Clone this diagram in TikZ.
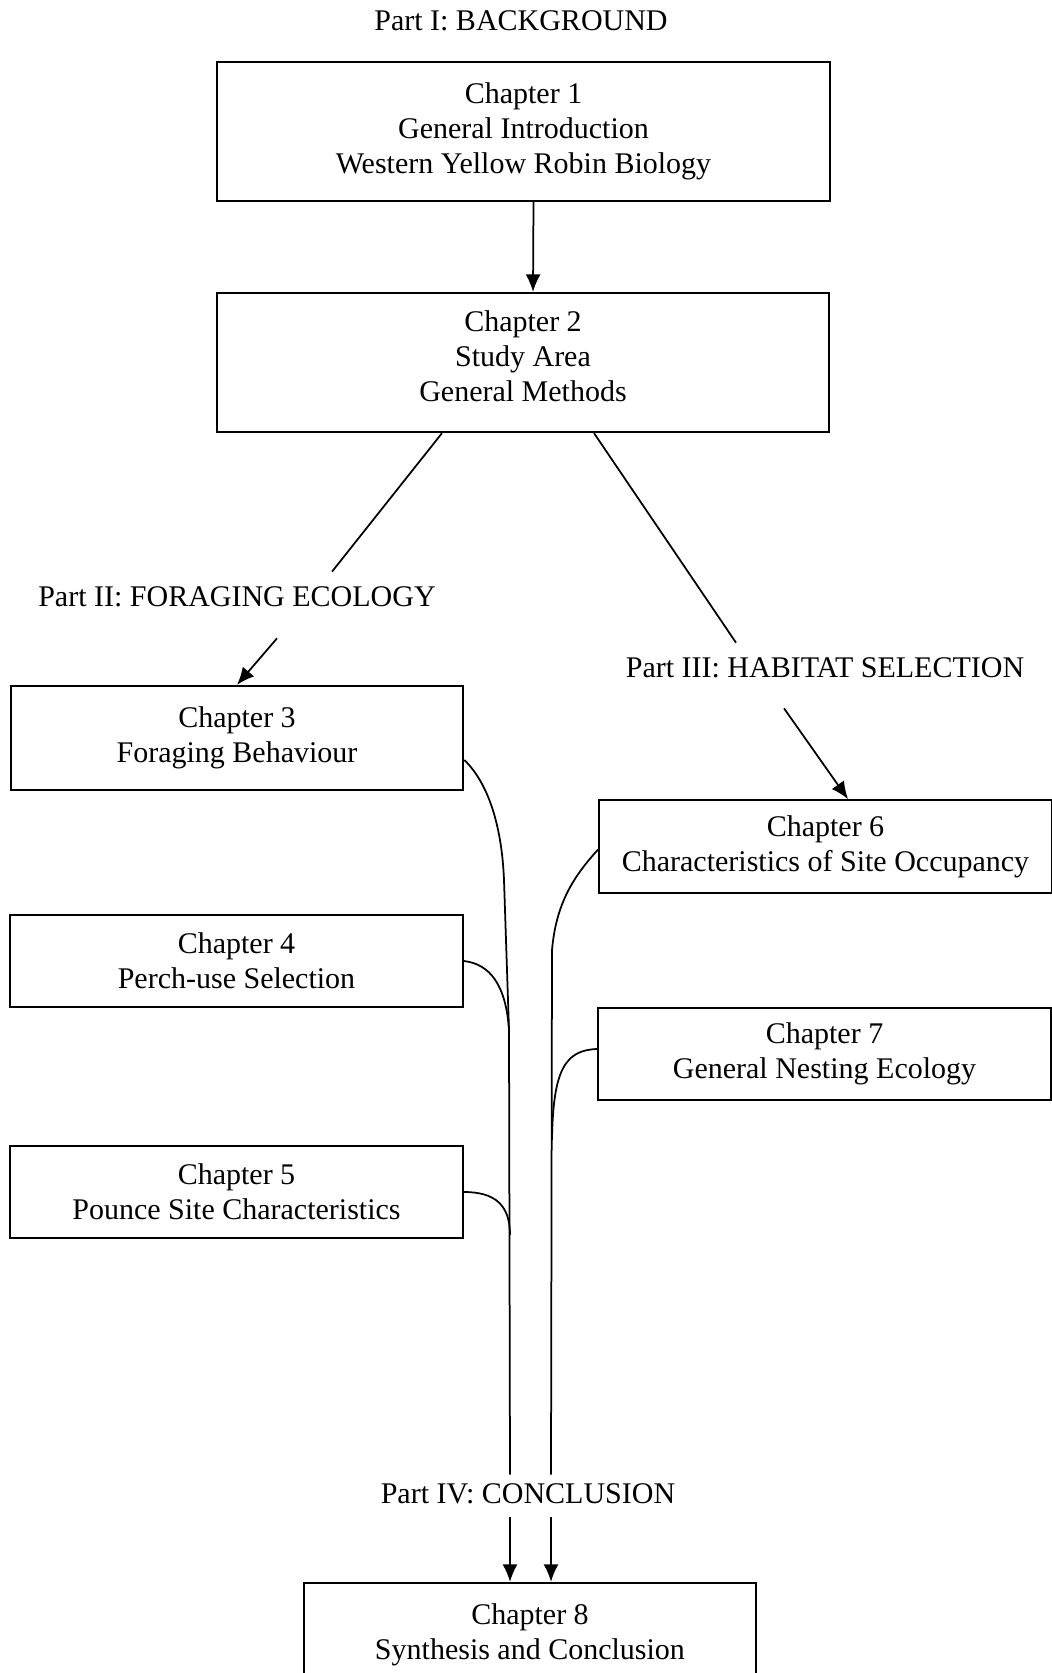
\documentclass[tikz,border=0pt]{standalone}
\usepackage{fontspec}
\setmainfont{Liberation Serif}
\usetikzlibrary{arrows.meta, calc}

\begin{document}
\begin{tikzpicture}[x=0.4pt, y=-0.4pt,
        every node/.style={align=center, font=\fontsize{12}{14}\selectfont},
        bigbox/.style={draw, line width=0.9pt, minimum width=245pt, minimum height=55.6pt},
        chapbox/.style={draw, line width=0.9pt, minimum width=181pt, minimum height=37pt},
        parttitle/.style={text height=8pt, text depth=2pt},
        link/.style={line width=0.7pt},
        arrowlink/.style={link, -{Latex[length=7pt, width=6pt]}}
    ]
    \useasboundingbox (0,0) rectangle (1052,1673);

    % Part I
    \node[parttitle] (partI) at (521,23) {Part I: BACKGROUND};
    \node[bigbox] (ch1) at (523.5,131.5) {Chapter 1\\General Introduction\\Western Yellow Robin Biology};
    \node[bigbox, text depth=5pt] (ch2) at (523,362.5) {Chapter 2\\Study Area\\General Methods};

    % Part II
    \node[parttitle] (partII) at (237,599) {Part II: FORAGING ECOLOGY};
    \node[chapbox, minimum height=41.6pt] (ch3) at (237,738) {Chapter 3\\Foraging Behaviour};
    \node[chapbox] (ch4) at (236.5,961) {Chapter 4\\Perch-use Selection};
    \node[chapbox] (ch5) at (236.5,1192) {Chapter 5\\Pounce Site Characteristics};

    % Part III
    \node[parttitle] (partIII) at (825,670) {Part III: HABITAT SELECTION};
    \node[chapbox] (ch6) at (825.5,846.5) {Chapter 6\\Characteristics of Site Occupancy};
    \node[chapbox] (ch7) at (824.5,1054) {Chapter 7\\General Nesting Ecology};

    % Part IV
    \node[parttitle] (partIV) at (528,1496) {Part IV: CONCLUSION};
    \node[chapbox, minimum height=41.6pt] (ch8) at (530,1635) {Chapter 8\\Synthesis and Conclusion};

    % connectors
    \draw[arrowlink] ([xshift=4pt]ch1.south) -- ([xshift=4pt]ch2.north);
    \draw[link] ($(ch2.south)+(-81,0)$) -- ($(partII.north)+(95,-6)$);
    \draw[arrowlink] ($(partII.south)+(40,18)$) -- (ch3.north);
    \draw[link] ($(ch2.south)+(71,0)$) -- ($(partIII.north)+(-89,-6)$);
    \draw[arrowlink] ($(partIII.south)+(-41,17)$) -- ($(ch6.north)+(22.5,0)$);

    % trunks
    \coordinate (ltrunk) at (509,1030);
    \coordinate (rtrunk) at (552,950);
    \draw[link] ($(ch3.east)+(0,22)$) .. controls (490,785) and (502,830) .. (504,880)
        -- (ltrunk) -- ($(partIV.north)+(-18,0)$);
    \draw[link] (ch4.east) .. controls (490,964) and (506,985) .. (ltrunk);
    \draw[link] (ch5.east) .. controls (495,1192) and (510,1205) .. (510,1235);
    \draw[link] ($(ch6.west)+(0,3)$) .. controls (572,878) and (556,905) .. (rtrunk)
        -- ($(partIV.north)+(23,0)$);
    \draw[link] ($(ch7.west)+(0,-5)$) .. controls (565,1050) and (553,1070) .. (552,1140);

    \draw[arrowlink] ($(partIV.south)+(-18,0)$) -- ($(ch8.north)+(-20,0)$);
    \draw[arrowlink] ($(partIV.south)+(23,0)$) -- ($(ch8.north)+(21,0)$);
\end{tikzpicture}
\end{document}
